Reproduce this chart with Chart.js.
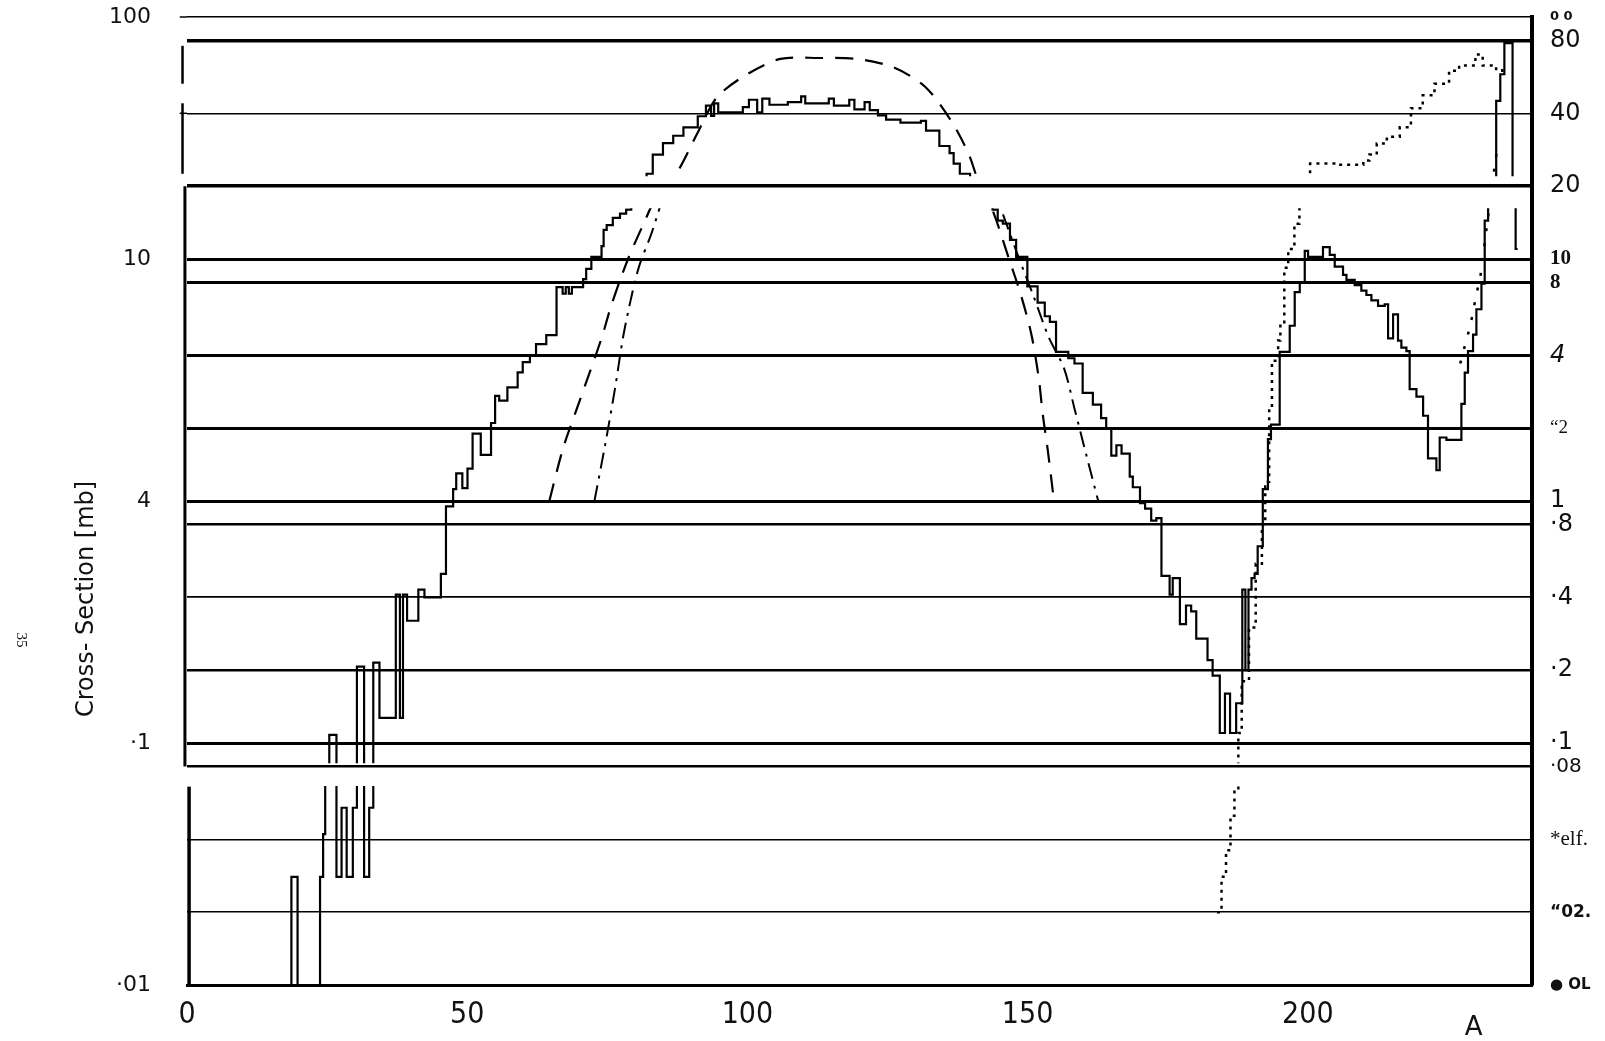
<!DOCTYPE html>
<html>
<head>
<meta charset="utf-8">
<script src="https://cdn.jsdelivr.net/npm/chart.js@4/dist/chart.umd.min.js"></script>
<style>
html,body{margin:0;padding:0;background:#fff;}
#wrap{position:relative;width:1605px;height:1041px;}
</style>
</head>
<body>
<div id="wrap"><canvas id="c"></canvas></div>
<script>
// Measured cross-section histogram: bin start (A) and value (mb)
const histA = [0, 18.63, 19.73, 23.74, 24.29, 24.66, 25.39, 26.67, 27.58, 28.49, 29.59, 30.32, 31.60, 32.51, 33.24, 34.34,
  37.26, 37.99, 38.54, 39.27, 41.28, 42.37, 45.30, 46.21, 47.49, 48.04, 49.13, 50.05, 50.96, 52.42, 54.25, 54.98, 55.71,
  57.17, 59.00, 59.91, 61.19, 62.28, 64.11, 65.94, 67.03, 67.58, 68.13, 68.68, 70.68, 71.23, 72.15, 73.97, 74.34, 74.89,
  75.98, 77.26, 78.36, 79.27, 82.01, 83.11, 84.93, 86.76, 88.58, 91.14, 92.60, 93.52, 94.06, 94.79, 99.18, 100.27, 101.74,
  102.65, 103.93, 107.21, 109.59, 110.32, 114.52, 115.43, 118.17, 119.09, 120.91, 121.83, 123.29, 124.75, 127.31, 130.96,
  131.87, 134.25, 136.07, 136.80, 137.90, 139.73, 143.74, 144.66, 145.57, 146.85, 147.95, 149.95, 151.78, 153.06, 153.97,
  155.07, 157.26, 158.36, 159.82, 161.64, 163.11, 164.02, 164.93, 165.84, 166.76, 168.22, 168.77, 170.05, 170.96, 172.05,
  172.97, 173.88, 175.34, 175.89, 177.17, 178.26, 179.18, 180.09, 182.10, 183.01, 184.29, 185.21, 186.12, 187.21, 188.31,
  188.86, 189.41, 189.95, 190.50, 191.05, 191.96, 192.88, 193.42, 194.98, 196.77, 197.66, 198.56, 199.45, 200.04, 202.70,
  203.91, 204.80, 206.28, 206.89, 208.36, 209.55, 210.45, 211.34, 212.53, 213.72, 214.32, 215.21, 216.09, 216.69, 217.59,
  218.17, 219.38, 220.57, 221.44, 222.94, 223.53, 224.73, 227.40, 228.00, 228.58, 229.48, 230.08, 230.98, 231.56, 232.17,
  233.61, 234.34, 235.07, 236.53, 237.08, 237.44];
const histMb = [0.001, 0.028, 0.001, 0.028, 0.042, 0.075, 0.108, 0.028, 0.054, 0.028, 0.054, 0.207, 0.028, 0.054, 0.215, 0.127,
  0.41, 0.127, 0.41, 0.32, 0.43, 0.40, 0.50, 0.95, 1.12, 1.30, 1.13, 1.36, 1.90, 1.55, 2.10, 2.72, 2.60,
  2.95, 3.40, 3.75, 4.00, 4.45, 4.85, 7.65, 7.20, 7.65, 7.20, 7.65, 8.25, 9.10, 10.2, 11.3, 13.2, 13.8,
  14.8, 15.4, 16.0, 19.0, 22.5, 27.0, 30.1, 32.3, 35.0, 38.9, 43.0, 39.0, 44.0, 40.4, 42.4, 45.5, 40.4,
  46.0, 43.4, 44.5, 47.0, 44.0, 46.0, 43.0, 45.5, 41.5, 44.5, 41.2, 39.2, 37.7, 36.6, 37.2,
  33.9, 29.3, 27.4, 24.8, 22.5, 19.0, 16.0, 14.4, 14.0, 12.0, 10.2, 7.7, 6.6, 5.8, 5.5,
  4.13, 3.89, 3.70, 2.80, 2.50, 2.20, 2.00, 1.54, 1.70, 1.57, 1.26, 1.14, 0.98, 0.93, 0.83,
  0.85, 0.49, 0.41, 0.48, 0.31, 0.37, 0.35, 0.27, 0.22, 0.19, 0.11, 0.16, 0.11, 0.146, 0.43,
  0.20, 0.43, 0.48, 0.50, 0.65, 1.12, 1.80, 2.07, 4.13, 5.3, 7.3, 8.0, 10.8, 10.2, 11.2,
  10.4, 9.3, 8.6, 8.2, 7.8, 7.4, 7.1, 6.75, 6.4, 6.5, 4.7, 5.9, 4.6, 4.3, 4.16,
  2.9, 2.7, 2.25, 1.50, 1.34, 1.83, 1.79, 2.52, 3.39, 4.16, 4.87, 6.2, 7.9, 14.4, 19.0,
  45, 58, 78, 19, 11, 11];

// Calculated curve, long dashes
const dashA = [64.66, 67.0, 69.2, 71.6, 74.0, 75.8, 78.7, 81.3, 84.0, 87.3, 91.3, 94.6, 99.9, 105.9, 112.7, 119.5,
  126.0, 131.7, 136.3, 139.5, 141.5, 143.7, 146.5, 148.9, 150.7, 152.0, 152.7, 153.6, 154.7];
const dashMb = [1.0, 1.62, 2.28, 3.27, 4.73, 6.53, 10.0, 13.7, 18.5, 22.5, 33.9, 46.7, 57.9, 67.1, 67.7, 67.1,
  62.0, 51.5, 37.4, 27.1, 20.0, 16.0, 10.3, 6.98, 4.84, 3.2, 2.28, 1.62, 1.0];

// Calculated curve, dash-dot (null separates the two branches)
const dashDotA = [72.7, 74.6, 76.4, 77.8, 79.3, 80.7, 82.9, 84.6, 115, 145.6, 148.3, 151.1, 153.8, 156.5, 158.4, 160.5, 162.6];
const dashDotMb = [1.0, 1.7, 2.94, 4.73, 6.98, 9.37, 12.8, 17.0, null, 15.3, 10.3, 6.98, 4.73, 3.53, 2.39, 1.54, 1.0];

// Dotted histogram
const dottedA = [183.8, 184.6, 185.4, 186.2, 186.9, 187.6, 188.2, 189.5, 190.7, 191.8, 192.4, 193.1, 193.6, 194.7, 195.1,
  195.8, 196.5, 197.6, 198.5, 200.4, 205.0, 209.9, 211.0, 212.3, 214.1, 216.4, 218.4, 220.5, 222.6, 225.2, 227.0,
  229.9, 231.2, 233.6, 234.7];
const dottedMb = [0.02, 0.028, 0.036, 0.05, 0.065, 0.11, 0.18, 0.3, 0.55, 0.8, 1.2, 2.4, 3.8, 4.6, 5.3,
  9.2, 11, 14, 18, 24.8, 24.5, 25.5, 27, 30, 32, 35, 42, 47.5, 53, 60, 63,
  70, 63, 61, 58];

// Sparse dotted marks near the upper end
const marksA = [227.2, 228.2, 229.0, 230.0, 230.8, 233.2, 233.8];
const marksMb = [3.7, 4.55, 5.3, 7.0, 8.5, 23, 28.6];

// Axis ticks and their labels
const xTicks = [0, 50, 100, 150, 200];
const xTickLabels = ['0', '50', '100', '150', '200'];
const leftTicks = [100, 10, 1, 0.1, 0.01];
const leftTickLabels = ['100', '10', '4', '·1', '·01'];
const rightTicks = [100, 80, 40, 20, 10, 8, 4, 2, 1, 0.8, 0.4, 0.2, 0.1, 0.08, 0.04, 0.02, 0.01];
const rightTickLabels = ['0 0', '80', '40', '20', '10', '8', '4', '“2', '1', '·8', '·4', '·2', '·1', '·08', '*elf.', '“02.', '● OL'];

// Value ranges left empty between the three panels
const panelGaps = [[22.0, 16.2], [0.0825, 0.0665]];

// ---- styling ----
const INK = '#000';
const sans = 'DejaVu Sans';
const serif = 'Liberation Serif';
const rightTickFonts = [
  {family: sans, size: 13, weight: 'bold'},
  {family: sans, size: 24}, {family: sans, size: 24}, {family: sans, size: 24},
  {family: serif, size: 21, weight: 'bold'}, {family: serif, size: 21, weight: 'bold'},
  {family: sans, size: 24, style: 'italic'},
  {family: serif, size: 19},
  {family: sans, size: 24}, {family: sans, size: 24}, {family: sans, size: 24},
  {family: sans, size: 24}, {family: sans, size: 24}, {family: sans, size: 20},
  {family: serif, size: 21},
  {family: sans, size: 17, weight: 'bold'},
  {family: sans, size: 15, weight: 'bold'}
];
const gridWidths = [1.5, 3.5, 1.5, 3.5, 3, 3, 3, 3, 3, 2.5, 1.8, 2.5, 3, 2.5, 1.5, 1.5, 3];

// Panel frame pieces: x position (A) and value span (mb)
const frameSegments = [
  {a: -0.8, from: 76, to: 53, w: 2.5},
  {a: -0.8, from: 44, to: 22.5, w: 2.5},
  {a: -0.37, from: 20, to: 0.08, w: 3},
  {a: 0.37, from: 0.066, to: 0.01, w: 3.5}
];

const pts = (xs, ys) => xs.map((x, i) => ({x, y: ys[i]}));

const panelPlugin = {
  id: 'panels',
  beforeDatasetsDraw(chart) {
    const {ctx, chartArea: a, scales: {y}} = chart;
    ctx.save();
    ctx.beginPath();
    let top = a.top - 10;
    for (const [hi, lo] of panelGaps) {
      const yHi = y.getPixelForValue(hi), yLo = y.getPixelForValue(lo);
      ctx.rect(a.left - 20, top, a.width + 40, yHi - top);
      top = yLo;
    }
    ctx.rect(a.left - 20, top, a.width + 40, a.bottom + 10 - top);
    ctx.clip();
  },
  afterDatasetsDraw(chart) {
    chart.ctx.restore();
  },
  afterDraw(chart) {
    const {ctx, scales: {x, y}} = chart;
    ctx.save();
    ctx.strokeStyle = INK;
    for (const f of frameSegments) {
      const px = x.getPixelForValue(f.a);
      ctx.lineWidth = f.w;
      ctx.beginPath();
      ctx.moveTo(px, y.getPixelForValue(f.from));
      ctx.lineTo(px, y.getPixelForValue(f.to));
      ctx.stroke();
    }
    // short left extensions of the 100 and 40 lines
    ctx.lineWidth = 1.5;
    for (const v of [100, 40]) {
      const py = y.getPixelForValue(v);
      ctx.beginPath();
      ctx.moveTo(x.getPixelForValue(-1.3), py);
      ctx.lineTo(x.getPixelForValue(0), py);
      ctx.stroke();
    }
    ctx.fillStyle = '#111';
    // axis title
    ctx.save();
    ctx.translate(87, 599);
    ctx.rotate(-Math.PI / 2);
    ctx.font = '24px "DejaVu Sans"';
    ctx.textAlign = 'center';
    ctx.textBaseline = 'middle';
    ctx.fillText('Cross- Section [mb]', 0, 0);
    ctx.restore();
    // page number
    ctx.save();
    ctx.translate(21, 640);
    ctx.rotate(Math.PI / 2);
    ctx.font = '15px "Liberation Serif"';
    ctx.textAlign = 'center';
    ctx.textBaseline = 'middle';
    ctx.fillText('35', 0, 0);
    ctx.restore();
    // mass-number label
    ctx.font = '26px "DejaVu Sans"';
    ctx.textAlign = 'center';
    ctx.textBaseline = 'bottom';
    ctx.fillText('A', x.getPixelForValue(229.6), 1041);
    ctx.restore();
  }
};

new Chart(document.getElementById('c'), {
  type: 'line',
  data: {
    datasets: [
      {data: pts(histA, histMb), stepped: true, borderColor: INK, borderWidth: 2.2, pointRadius: 0, fill: false},
      {data: pts(dashA, dashMb), borderColor: INK, borderWidth: 2.2, borderDash: [18, 12], pointRadius: 0, tension: 0.3, fill: false},
      {data: pts(dashDotA, dashDotMb), borderColor: INK, borderWidth: 2, borderDash: [16, 7, 3, 7], pointRadius: 0, tension: 0.3, spanGaps: false, fill: false},
      {data: pts(dottedA, dottedMb), stepped: true, borderColor: INK, borderWidth: 2.5, borderDash: [3, 5], pointRadius: 0, fill: false},
      {data: pts(marksA, marksMb), borderColor: INK, borderWidth: 2.5, borderDash: [3, 12], pointRadius: 0, fill: false}
    ]
  },
  options: {
    responsive: true,
    maintainAspectRatio: false,
    animation: false,
    layout: {padding: {top: 17, left: 0, right: 0, bottom: 0}},
    plugins: {legend: {display: false}, tooltip: {enabled: false}},
    elements: {point: {radius: 0}},
    scales: {
      x: {
        type: 'linear', position: 'bottom', min: 0, max: 240,
        afterBuildTicks: s => { s.ticks = xTicks.map(v => ({value: v})); },
        afterFit: s => { s.height = 56; },
        grid: {display: false, drawTicks: true, tickLength: 10},
        border: {display: true, width: 3, color: INK},
        ticks: {
          autoSkip: false, maxRotation: 0, padding: 2, color: '#111',
          font: {family: "'Liberation Sans Narrow', 'DejaVu Sans Condensed', 'Liberation Sans', sans-serif", size: 30},
          callback: (v, i) => xTickLabels[i]
        }
      },
      y: {
        type: 'logarithmic', position: 'left', min: 0.01, max: 100,
        afterBuildTicks: s => { s.ticks = leftTicks.map(v => ({value: v})); },
        afterFit: s => { s.width = 187; },
        grid: {display: false, drawTicks: true, tickLength: 34},
        border: {display: false},
        ticks: {
          autoSkip: false, padding: 2, color: '#111',
          font: {family: sans, size: 22},
          callback: (v, i) => leftTickLabels[i]
        }
      },
      yR: {
        type: 'logarithmic', position: 'right', min: 0.01, max: 100,
        afterBuildTicks: s => { s.ticks = rightTicks.map(v => ({value: v})); },
        afterFit: s => { s.width = 73; },
        grid: {display: true, drawTicks: true, tickLength: 16, tickColor: 'rgba(0,0,0,0)', color: INK,
               lineWidth: c => gridWidths[c.index] ?? 1.5},
        border: {display: true, width: 4, color: INK},
        ticks: {
          autoSkip: false, padding: 2, color: '#111',
          font: c => rightTickFonts[c.index] || {family: sans, size: 20},
          callback: (v, i) => rightTickLabels[i]
        }
      }
    }
  },
  plugins: [panelPlugin]
});
</script>
</body>
</html>
